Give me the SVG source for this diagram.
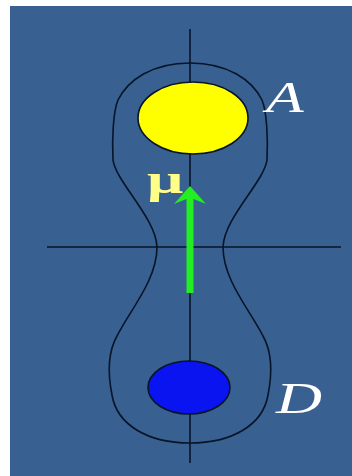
<svg xmlns="http://www.w3.org/2000/svg" width="352" height="476" viewBox="0 0 352 476">
<style>
.ln{stroke:#081428;stroke-width:1.6;fill:none}
.lbl{font-family:"Liberation Serif",serif;font-style:italic;fill:#ffffff;font-size:44px}
</style>
<rect x="0" y="0" width="352" height="476" fill="#ffffff"/>
<rect x="10" y="6" width="342" height="470" fill="#386090"/>
<g id="axes">
<line class="ln" x1="190" y1="29" x2="190" y2="463"/>
<line class="ln" x1="47" y1="247" x2="341" y2="247"/>
</g>
<g id="contour">
<path class="ln" d="M190,63 C228,63 252,80 262,100 C267,112 268,140 267,160 C264,182 224,218 223,247 C223,280 250,310 263,336 C272,352 272,375 268,395 C263,425 232,443 190,443 C148,443 117,425 112,395 C108,375 108,352 117,336 C130,310 157,280 157,247 C156,218 116,182 113,160 C112,140 113,112 118,100 C128,80 152,63 190,63 Z"/>
</g>
<g id="nodeA">
<ellipse cx="193" cy="118" rx="55" ry="36" fill="#ffff00" stroke="#081428" stroke-width="1.6"/>
<text class="lbl" transform="translate(266,112) scale(1.4,1)">A</text>
</g>
<g id="nodeD">
<ellipse cx="189" cy="387.5" rx="41" ry="26.5" fill="#0a14f0" stroke="#081428" stroke-width="1.6"/>
<text class="lbl" transform="translate(276,413) scale(1.45,1)">D</text>
</g>
<g id="connectors">
<polygon points="190,186 206,204 193.5,199 193.5,293 186.5,293 186.5,199 174,204" fill="#22ee22"/>
<text transform="translate(147,193) scale(1.6,1)" font-family="Liberation Serif,serif" font-weight="bold" font-size="40" fill="#ffff88">μ</text>
</g>
</svg>
